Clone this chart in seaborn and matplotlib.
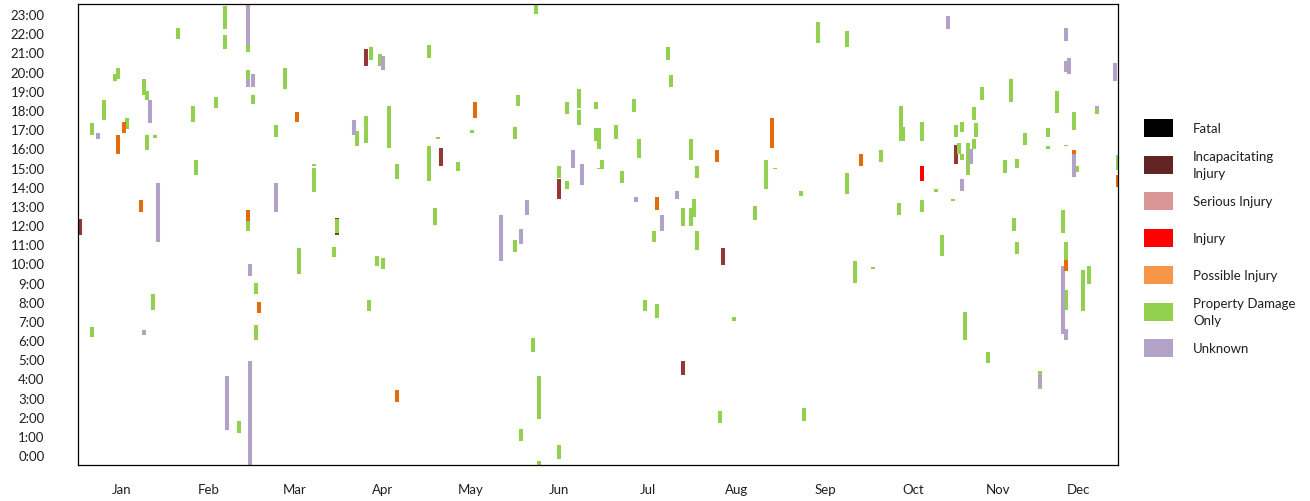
import pandas as pd
import seaborn as sns
import seaborn.objects as so
import matplotlib.pyplot as plt
from matplotlib.patches import Rectangle

# severity categories, legend order
sev_codes = ["F", "I", "S", "J", "P", "D", "U"]
sev_labels = ["Fatal", "Incapacitating\nInjury", "Serious Injury", "Injury",
              "Possible Injury", "Property Damage\nOnly", "Unknown"]
legend_colors = ["#000000", "#632523", "#D99694", "#FF0000", "#F79646", "#92D050", "#B3A2C7"]
bar_colors = {"F": "#000000", "I": "#953735", "S": "#D99694", "J": "#FF0000",
              "P": "#E46C0A", "D": "#92D050", "U": "#B3A2C7"}
draw_order = ["I", "D", "U", "P", "J", "S", "F"]

months = ["Jan", "Feb", "Mar", "Apr", "May", "Jun", "Jul", "Aug", "Sep", "Oct", "Nov", "Dec"]
month_edges = [30.6, 60.8, 91.4, 122.6, 153.1, 184.4, 215.6, 246.9, 277.4, 308.6, 337.1]
hour_labels = [f"{h}:00" for h in range(24)]

# crashes: day of year, start hour, end hour
incap_day = [0.7, 90.9, 101.1, 127.4, 168.8, 226.4, 212.4, 308.2]
incap_start = [11.5, 11.5, 20.3, 15.1, 13.35, 9.9, 4.2, 15.2]
incap_end = [12.3, 12.35, 21.2, 16.0, 14.4, 10.8, 4.9, 16.2]

injury_day = [296.2]
injury_start = [14.3]
injury_end = [15.1]

possible_day = [14.0, 16.1, 22.1, 59.7, 63.5, 76.9, 112.0, 139.3, 203.2, 224.3,
                243.6, 274.8, 346.8, 349.6, 365.0]
possible_start = [15.7, 16.8, 12.7, 12.2, 7.4, 17.4, 2.76, 17.6, 12.8, 15.3,
                  16.0, 15.1, 9.6, 15.7, 14.0]
possible_end = [16.7, 17.4, 13.3, 12.8, 8.0, 17.9, 3.4, 18.4, 13.45, 15.9,
                17.6, 15.7, 10.2, 15.9, 14.6]

unknown_day = [7.0, 23.2, 25.3, 28.1, 52.3, 59.7, 59.7, 60.4, 60.4, 61.4,
               69.5, 96.9, 107.1, 148.5, 155.5, 157.6, 173.7, 176.9, 195.9, 205.0,
               210.2, 305.4, 310.3, 313.4, 337.7, 345.7, 346.8, 346.8, 346.8, 347.8,
               349.6, 357.7, 364.0]
unknown_start = [16.5, 6.26, 17.3, 11.1, 1.3, 21.4, 19.2, 9.34, -0.6, 19.2,
                 12.7, 16.7, 20.1, 10.1, 11.0, 12.5, 15.0, 14.1, 13.2, 11.7,
                 13.35, 22.2, 13.8, 15.2, 3.55, 6.3, 21.6, 20.0, 6.0, 19.9,
                 14.5, 18.05, 19.5]
unknown_end = [16.8, 6.5, 18.5, 14.2, 4.1, 23.6, 19.6, 9.96, 4.9, 19.9,
               14.2, 17.5, 20.8, 12.5, 11.8, 13.3, 15.9, 15.2, 13.45, 12.5,
               13.8, 22.9, 14.4, 15.95, 4.17, 9.86, 22.3, 20.55, 6.6, 20.7,
               15.7, 18.2, 20.45]

pdo_day = [4.9, 4.9, 9.1, 13.0, 14.0, 17.2, 23.2, 24.2, 24.2, 26.3,
           27.0, 35.1, 40.4, 41.4, 48.4, 51.6, 51.6, 56.5, 59.7, 59.7,
           59.7, 61.4, 62.5, 62.5, 69.5, 72.7, 77.6, 82.8, 82.8, 89.9,
           90.9, 97.9, 101.1, 102.1, 102.8, 104.9, 106.0, 107.1, 109.2, 112.0,
           123.2, 123.2, 125.3, 126.4, 133.4, 138.3, 153.4, 153.4, 154.4, 155.5,
           159.7, 160.8, 161.8, 161.8, 168.8, 168.8, 171.6, 171.6, 175.9, 175.9,
           181.8, 181.8, 182.9, 182.9, 183.9, 188.8, 190.9, 195.2, 196.9, 199.0,
           202.2, 203.2, 207.1, 208.1, 212.4, 215.2, 215.2, 216.2, 217.3, 217.3,
           225.3, 230.3, 237.6, 241.5, 244.6, 253.8, 254.8, 259.7, 269.9, 269.9,
           272.7, 279.0, 281.8, 288.2, 288.9, 289.6, 296.2, 296.2, 301.2, 303.3,
           307.1, 308.2, 309.2, 310.3, 310.3, 311.3, 312.4, 314.5, 314.5, 315.2,
           317.3, 319.4, 325.4, 327.5, 328.5, 329.6, 329.6, 332.4, 337.7, 340.5,
           340.5, 343.6, 345.7, 346.8, 346.8, 346.8, 349.6, 350.6, 352.8, 354.9,
           357.7, 365.0]
pdo_start = [16.7, 6.15, 17.5, 19.5, 19.6, 17.0, 18.8, 18.5, 15.9, 7.56,
             16.55, 21.7, 17.4, 14.6, 18.1, 22.2, 21.2, 1.15, 21.0, 19.6,
             11.7, 18.3, 8.4, 6.0, 16.6, 19.1, 9.45, 15.1, 13.7, 10.33,
             11.6, 16.1, 16.3, 7.5, 20.6, 9.86, 20.3, 9.7, 16.0, 14.4,
             20.7, 14.3, 12.0, 16.5, 14.8, 16.8, 16.5, 10.6, 18.2, 0.73,
             5.4, 23.0, 1.9, -0.6, 14.45, -0.2, 17.8, 13.9, 18.1, 17.2,
             18.05, 16.4, 15.96, 14.9, 14.9, 16.5, 14.2, 17.9, 15.5, 7.5,
             11.1, 7.15, 20.6, 19.2, 11.95, 11.95, 15.4, 12.4, 10.7, 14.45,
             1.67, 7.0, 12.25, 13.9, 14.9, 13.5, 1.8, 21.5, 21.3, 13.6,
             9.0, 9.7, 15.3, 12.5, 16.4, 16.4, 16.4, 12.7, 13.7, 10.4,
             13.25, 16.6, 15.7, 16.85, 15.4, 6.0, 14.6, 17.5, 15.95, 16.6,
             18.5, 4.8, 14.7, 18.4, 11.7, 15.0, 10.5, 16.2, 3.45, 16.6,
             15.95, 17.85, 11.6, 16.1, 10.2, 7.56, 16.95, 14.75, 7.5, 8.9,
             17.8, 14.85]
pdo_end = [17.3, 6.7, 18.5, 19.9, 20.2, 17.6, 19.6, 19.0, 16.7, 8.4,
           16.7, 22.3, 18.2, 15.4, 18.7, 23.4, 21.9, 1.77, 21.4, 20.1,
           12.2, 18.8, 9.0, 6.8, 17.2, 20.2, 10.8, 15.2, 15.0, 10.85,
           12.3, 16.9, 17.7, 8.1, 21.3, 10.4, 20.9, 10.3, 18.2, 15.2,
           21.4, 16.1, 12.9, 16.6, 15.3, 16.95, 17.1, 11.2, 18.8, 1.36,
           6.1, 23.6, 4.1, -0.3, 15.1, 0.5, 18.4, 14.3, 19.1, 18.0,
           18.4, 17.05, 17.05, 15.0, 15.4, 17.2, 14.8, 18.6, 16.5, 8.1,
           11.7, 7.9, 21.3, 19.8, 12.9, 12.9, 16.5, 13.35, 11.7, 15.1,
           2.3, 7.2, 13.0, 15.4, 15.0, 13.75, 2.45, 22.6, 22.1, 14.7,
           10.1, 9.8, 15.9, 13.15, 18.2, 17.1, 17.4, 13.3, 13.9, 11.5,
           13.35, 17.2, 16.3, 17.4, 15.7, 7.46, 16.3, 18.15, 16.5, 17.3,
           19.2, 5.4, 15.4, 19.6, 12.35, 15.45, 11.1, 16.8, 4.4, 17.05,
           16.1, 19.0, 12.8, 16.2, 11.1, 8.6, 17.9, 15.1, 9.65, 9.86,
           18.05, 15.65]


def frame(code, days, starts, ends):
    return pd.DataFrame({"day": days, "start": starts, "end": ends, "severity": code})


df = pd.concat([
    frame("I", incap_day, incap_start, incap_end),
    frame("J", injury_day, injury_start, injury_end),
    frame("P", possible_day, possible_start, possible_end),
    frame("U", unknown_day, unknown_start, unknown_end),
    frame("D", pdo_day, pdo_start, pdo_end),
], ignore_index=True)
df["crash"] = df.index  # one range per crash, even on the same day

sns.set_style("white")
font_list = ["Lato", "DejaVu Sans"]
plt.rcParams["font.family"] = font_list
text_color = "#1f1f1f"

fig = plt.figure(figsize=(13.1, 5.02), dpi=100)
ax = fig.add_axes([78 / 1310, 36 / 502, 1040 / 1310, 461 / 502])

# floating bars: one vertical range per crash
theme = {**sns.axes_style("white"), "font.family": font_list}
(
    so.Plot(df, x="day", ymin="start", ymax="end", color="severity", group="crash")
    .add(so.Range(linewidth=2.9, artist_kws={"capstyle": "butt"}), legend=False)
    .scale(color=so.Nominal(bar_colors, order=draw_order))
    .theme(theme)
    .on(ax)
    .plot()
)

ax.set_facecolor("white")
ax.grid(False)
ax.set_xlim(0, 365)
ax.set_ylim(-0.52, 23.53)
ax.set_xlabel("")
ax.set_ylabel("")

# x axis: tick marks at month edges, names centred between them
bounds = [0] + month_edges + [365]
mids = [(a + b) / 2 for a, b in zip(bounds[:-1], bounds[1:])]
ax.set_xticks(month_edges, labels=[""] * len(month_edges))
ax.set_xticks(mids, labels=months, minor=True, fontsize=9.5, color=text_color,
              fontfamily=font_list)
ax.tick_params(axis="x", which="major", direction="out", length=3, width=0.9, color="black")
ax.tick_params(axis="x", which="minor", length=0, pad=13)

# y axis: hour labels, inner tick marks every six hours
ax.set_yticks(range(24), labels=hour_labels, fontsize=9.5, color=text_color,
              fontfamily=font_list)
ax.set_yticks([5.5, 11.5, 17.5], minor=True)
ax.tick_params(axis="y", which="major", length=0, pad=24)
ax.tick_params(axis="y", which="minor", direction="in", length=5, width=0.9, color="black")

for s in ax.spines.values():
    s.set_visible(True)
    s.set_color("black")
    s.set_linewidth(0.9)

# legend on the right
for i, (lab, col) in enumerate(zip(sev_labels, legend_colors)):
    yc = 129 + i * 36.7
    fig.add_artist(Rectangle((1144 / 1310, (502 - yc - 9) / 502), 29 / 1310, 18 / 502,
                             transform=fig.transFigure, facecolor=col, edgecolor="none"))
    fig.text(1193 / 1310, (502 - yc) / 502, lab, va="center", ha="left", fontsize=9.5,
             linespacing=1.5, color=text_color, fontfamily=font_list)

fig.savefig("out.png", dpi=100)
